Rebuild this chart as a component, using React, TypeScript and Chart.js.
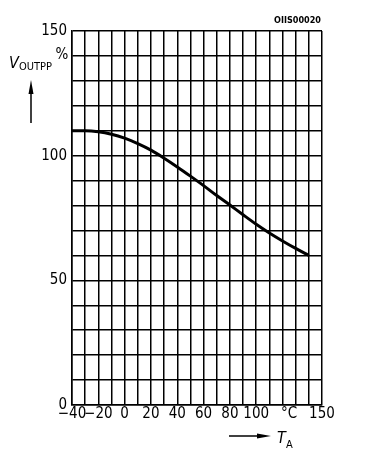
import React, { useEffect, useRef } from "react";
import { Chart, registerables } from "chart.js";

Chart.register(...registerables);

const temps = [-40, -30, -20, -10, 0, 10, 20, 30, 40, 50, 60, 70, 80, 90, 100, 110, 120, 130, 140];
const voutpp = [110, 110, 109.6, 108.6, 107, 104.8, 102.2, 99, 95.5, 91.8, 88, 84, 80.2, 76.3, 72.5, 69, 65.8, 62.8, 60];
const xTickLabels: Record<number, string> = {
  [-40]: "\u221240",
  [-20]: "\u221220",
  0: "0",
  20: "20",
  40: "40",
  60: "60",
  80: "80",
  100: "100",
  125: "°C",
  150: "150",
};
const yTickLabels: Record<number, string> = { 0: "0", 50: "50", 100: "100", 150: "150" };

const FONT = "'DejaVu Sans Condensed', 'DejaVu Sans', sans-serif";

const annotations = {
  id: "annotations",
  afterDraw(chart: any) {
    const ctx = chart.ctx;
    ctx.save();
    ctx.fillStyle = "#000";
    ctx.strokeStyle = "#000";
    // code label
    ctx.font = `bold 9px ${FONT}`;
    ctx.textAlign = "right";
    ctx.textBaseline = "middle";
    ctx.fillText("OIIS00020", 321, 21);
    // percent
    ctx.font = `15px ${FONT}`;
    ctx.textAlign = "center";
    ctx.fillText("%", 62, 55);
    // V_OUTPP
    ctx.textAlign = "left";
    ctx.textBaseline = "alphabetic";
    ctx.font = `italic 16px ${FONT}`;
    ctx.fillText("V", 9, 68);
    ctx.font = `11px ${FONT}`;
    ctx.fillText("OUTPP", 19, 70);
    // up arrow
    ctx.lineWidth = 1.5;
    ctx.beginPath();
    ctx.moveTo(31, 123);
    ctx.lineTo(31, 90);
    ctx.stroke();
    ctx.beginPath();
    ctx.moveTo(31, 80);
    ctx.lineTo(28.5, 94);
    ctx.lineTo(33.5, 94);
    ctx.closePath();
    ctx.fill();
    // right arrow
    ctx.beginPath();
    ctx.moveTo(229, 436);
    ctx.lineTo(262, 436);
    ctx.stroke();
    ctx.beginPath();
    ctx.moveTo(271, 436);
    ctx.lineTo(257, 433.5);
    ctx.lineTo(257, 438.5);
    ctx.closePath();
    ctx.fill();
    // T_A
    ctx.font = `italic 16px ${FONT}`;
    ctx.fillText("T", 277, 443);
    ctx.font = `11px ${FONT}`;
    ctx.fillText("A", 286, 448);
    ctx.restore();
  },
};

export default function App() {
  const ref = useRef<HTMLCanvasElement | null>(null);
  useEffect(() => {
    if (!ref.current) return;
    const chart = new Chart(ref.current, {
      type: "line",
      data: {
        datasets: [
          {
            data: temps.map((t, i) => ({ x: t, y: voutpp[i] })),
            borderColor: "#000",
            borderWidth: 3,
            pointRadius: 0,
            cubicInterpolationMode: "monotone",
            fill: false,
          },
        ],
      },
      options: {
        animation: false,
        responsive: false,
        maintainAspectRatio: false,
        layout: { padding: { top: 31, right: 56, left: 0, bottom: 0 } },
        plugins: { legend: { display: false }, tooltip: { enabled: false } },
        scales: {
          x: {
            type: "linear",
            min: -40,
            max: 150,
            afterBuildTicks(scale: any) {
              const t = [];
              for (let v = -40; v <= 150; v += 5) t.push({ value: v });
              scale.ticks = t;
            },
            afterFit(scale: any) {
              scale.height = 51;
            },
            border: { color: "#000", width: 1.5 },
            grid: {
              color: (c: any) => (c.tick && c.tick.value % 10 === 0 ? "#000" : "rgba(0,0,0,0)"),
              lineWidth: 1.5,
              drawTicks: false,
            },
            ticks: {
              autoSkip: false,
              maxRotation: 0,
              minRotation: 0,
              padding: 0,
              color: "#000",
              font: { family: FONT, size: 15 },
              callback: (v: any) => xTickLabels[v] ?? "",
            },
          },
          y: {
            type: "linear",
            min: 0,
            max: 150,
            afterFit(scale: any) {
              scale.width = 72;
            },
            border: { color: "#000", width: 1.5 },
            grid: { color: "#000", lineWidth: 1.5, drawTicks: false },
            ticks: {
              stepSize: 10,
              autoSkip: false,
              padding: 5,
              color: "#000",
              font: { family: FONT, size: 15 },
              callback: (v: any) => yTickLabels[v] ?? "",
            },
          },
        },
      },
      plugins: [annotations],
    });
    return () => chart.destroy();
  }, []);
  return (
    <div style={{ position: "fixed", left: 0, top: 0, width: 378, height: 456, background: "#fff" }}>
      <canvas ref={ref} width={378} height={456} style={{ width: 378, height: 456, display: "block" }} />
    </div>
  );
}
